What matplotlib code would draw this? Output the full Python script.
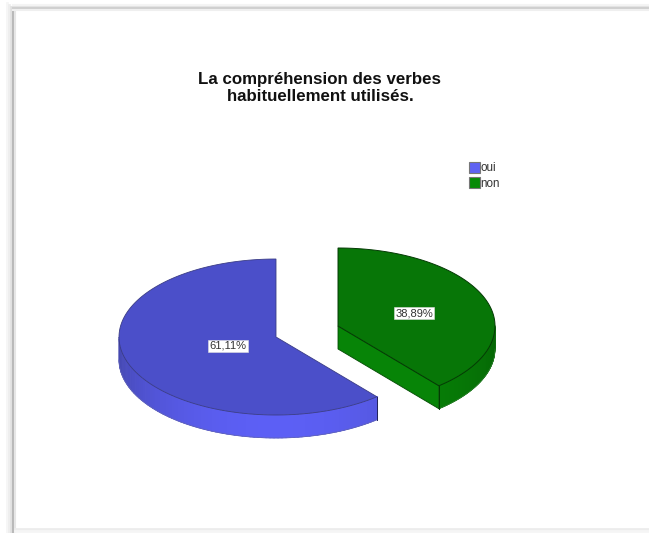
import numpy as np
import matplotlib
matplotlib.use('agg')
import matplotlib.pyplot as plt
from matplotlib.patches import Polygon, Patch

plt.rcParams['font.family'] = ['Liberation Sans', 'DejaVu Sans']

title = 'La compréhension des verbes\nhabituellement utilisés.'
categories = ['oui', 'non']
shares = [61.11, 38.89]
labels = ['61,11%', '38,89%']
top_colors = ['#4b4fc9', '#077607']
side_light = ['#5c5ff5', '#078407']
side_dark = ['#4346ad', '#056605']
legend_colors = ['#5f62f2', '#078a07']

# pixel layout of the pie
centers = [(276, 337), (338, 326)]
label_pos = [(228, 346), (414, 313)]
rx, ry, depth = 157, 78, 23


def ring(cx, cy, a0, a1, n=200):
    t = np.radians(np.linspace(a0, a1, n))
    return cx + rx * np.cos(t), cy - ry * np.sin(t)


def mix(c0, c1, f):
    c0 = np.array(matplotlib.colors.to_rgb(c0))
    c1 = np.array(matplotlib.colors.to_rgb(c1))
    return tuple(c0 + (c1 - c0) * f)


def draw_side(ax, cx, cy, a0, a1, dark, light, z):
    # outer rim, only the part that faces the viewer
    a0, a1 = max(a0, 180), min(a1, 360)
    edges = np.linspace(a0, a1, 90)
    for s, e in zip(edges[:-1], edges[1:]):
        f = abs(np.sin(np.radians((s + e) / 2))) ** 1.2
        x, y = ring(cx, cy, s, e + 0.4, 6)
        pts = np.r_[np.c_[x, y], np.c_[x[::-1], y[::-1] + depth]]
        col = mix(dark, light, f)
        ax.add_patch(Polygon(pts, fc=col, ec=col, lw=0.4, zorder=z))
    x, y = ring(cx, cy, a0, a1)
    ax.plot(x, y + depth, color=mix(dark, '#ffffff', 0.15), lw=0.6, zorder=z + 1)
    # edge where the rim meets the cut
    i = -1 if a0 == 180 else 0
    ax.plot([x[i], x[i]], [y[i], y[i] + depth], color=mix(dark, '#000000', 0.5), lw=0.7, zorder=z + 1)


fig = plt.figure(figsize=(6.49, 5.33), dpi=100)
ax = fig.add_axes([0, 0, 1, 1])
ax.set_xlim(0, 649)
ax.set_ylim(533, 0)
ax.axis('off')

# soft frame of the pasted screenshot
for off, col, lw in [(-6, '#f6f6f6', 2), (-4, '#eeeeee', 2), (-2, '#e2e2e2', 2), (0, '#b9b9b9', 2.2), (2, '#e6e6e6', 1.5)]:
    ax.plot([13 + off, 13 + off], [9 + off, 533], color=col, lw=lw, zorder=1)
for off, col, lw in [(-3, '#f4f4f4', 1.5), (-1.5, '#e4e4e4', 1.5), (0, '#cfcfcf', 1.5), (1.5, '#efefef', 1.5)]:
    ax.plot([13, 649], [8 + off, 8 + off], color=col, lw=lw, zorder=1)
for off, col, lw in [(0, '#ececec', 2), (2, '#f5f5f5', 2)]:
    ax.plot([15, 649], [529 + off, 529 + off], color=col, lw=lw, zorder=1)

# slices run counterclockwise from 12 o'clock for oui, clockwise for non
a_blue_end = 90 + shares[0] * 3.6
a_green_end = 90 - shares[1] * 3.6

cx, cy = centers[0]
draw_side(ax, cx, cy, 90, a_blue_end, side_dark[0], side_light[0], 3)
x, y = ring(cx, cy, 90, a_blue_end)
ax.add_patch(Polygon(np.r_[[[cx, cy]], np.c_[x, y]], fc=top_colors[0], ec='#3a3c85', lw=0.6, zorder=5))

cx, cy = centers[1]
draw_side(ax, cx, cy, a_green_end + 360, 360, side_dark[1], side_light[1], 3)
x, y = ring(cx, cy, a_green_end, 90)
# cut face in front of the slice
ax.add_patch(Polygon([[cx, cy], [x[0], y[0]], [x[0], y[0] + depth], [cx, cy + depth]],
                     fc=side_light[1], ec='#044a04', lw=0.6, zorder=4))
ax.add_patch(Polygon(np.r_[[[cx, cy]], np.c_[x, y]], fc=top_colors[1], ec='#043a04', lw=0.7, zorder=5))

for lab, (lx, ly) in zip(labels, label_pos):
    ax.text(lx, ly, lab, ha='center', va='center', fontsize=8, color='#333333', zorder=7,
            bbox=dict(boxstyle='square,pad=0.12', fc='white', ec='#dddddd', lw=0.4))

ax.text(320, 88, title, ha='center', va='center', fontsize=12.2, fontweight='bold',
        color='#111111', linespacing=1.12, zorder=7)

handles = [Patch(fc=c, ec='#777777', lw=0.8) for c in legend_colors]
ax.legend(handles, categories, loc='upper left', bbox_to_anchor=(469 / 649, 1 - 162 / 533),
          frameon=False, fontsize=8.4, handlelength=0.95, handleheight=1.05, handletextpad=0.05,
          labelspacing=0.25, borderpad=0, borderaxespad=0, labelcolor='#333333')

fig.savefig('out.png', dpi=100)
